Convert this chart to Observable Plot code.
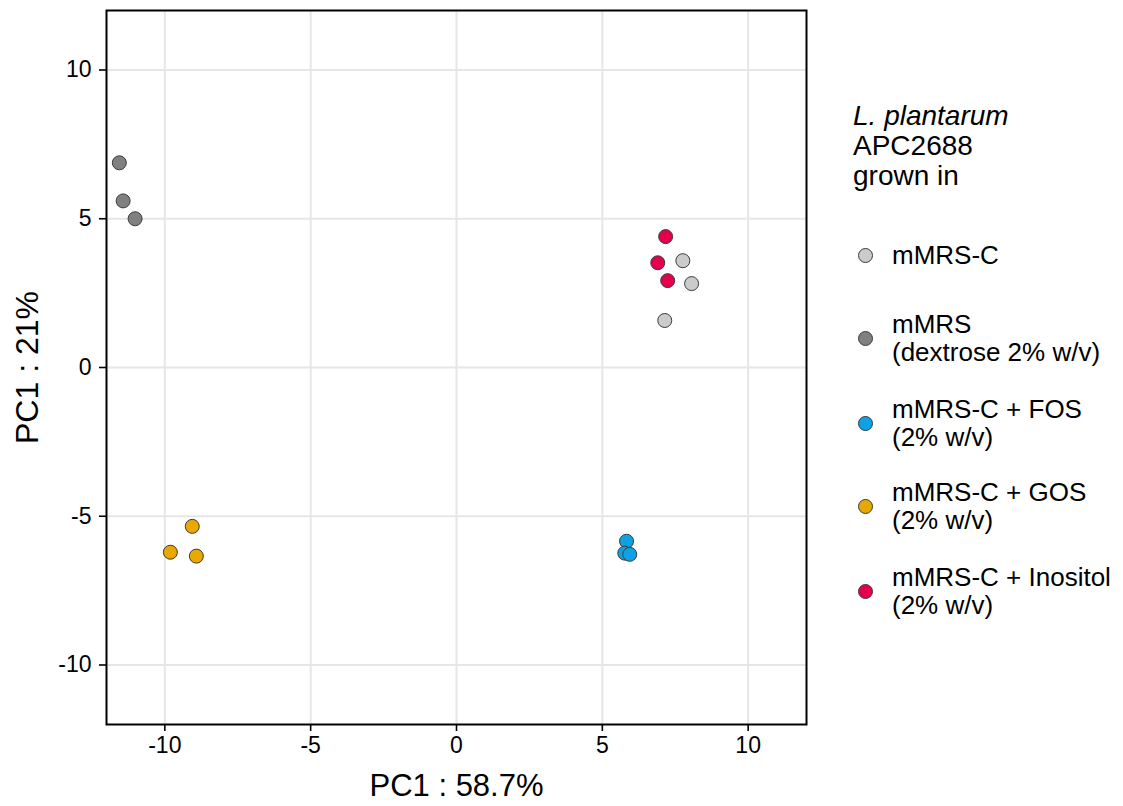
<!DOCTYPE html>
<html><head><meta charset="utf-8">
<script src="https://cdn.jsdelivr.net/npm/d3@7"></script>
<script src="https://cdn.jsdelivr.net/npm/@observablehq/plot@0.6"></script>
<style>
body{margin:0;background:#fff;font-family:"Liberation Sans",Arial,sans-serif;color:#000;}
#wrap{position:relative;width:1123px;height:806px;overflow:hidden;}
#chart{position:absolute;left:0;top:0;}
#legend{position:absolute;left:853px;top:0;width:270px;}
.tl{position:absolute;left:0;font-size:28px;line-height:31px;height:31px;white-space:nowrap;}
.item{position:absolute;left:0;height:84px;display:flex;align-items:center;white-space:nowrap;}
.sw{width:13px;height:13px;border-radius:50%;border:1px solid #3a3a3a;margin-left:5px;margin-right:19px;flex:none;}
.lab{font-size:26px;line-height:28.5px;}
</style></head><body>
<div id="wrap"><div id="chart"></div><div id="legend"></div></div>
<script>
// Groups, legend labels and colours
const groups = ["mMRS-C", "mMRS", "mMRS-C + FOS", "mMRS-C + GOS", "mMRS-C + Inositol"];
const groupLabels = [["mMRS-C"], ["mMRS", "(dextrose 2% w/v)"], ["mMRS-C + FOS", "(2% w/v)"], ["mMRS-C + GOS", "(2% w/v)"], ["mMRS-C + Inositol", "(2% w/v)"]];
const groupColors = ["#cbcbcb", "#808080", "#0ea2e4", "#e8a800", "#e5004f"];
const legendTitle = ["<i>L. plantarum</i>", "APC2688", "grown in"];

// Sample scores
const sampleGroup = ["mMRS", "mMRS", "mMRS",
  "mMRS-C + GOS", "mMRS-C + GOS", "mMRS-C + GOS",
  "mMRS-C + FOS", "mMRS-C + FOS", "mMRS-C + FOS",
  "mMRS-C + Inositol", "mMRS-C + Inositol", "mMRS-C + Inositol",
  "mMRS-C", "mMRS-C", "mMRS-C"];
const pc1 = [-11.56, -11.43, -11.02,  -9.81, -9.06, -8.92,  5.83, 5.77, 5.94,  7.17, 6.90, 7.24,  7.76, 8.06, 7.14];
const pc2 = [6.88, 5.60, 5.00,  -6.21, -5.34, -6.34,  -5.84, -6.24, -6.28,  4.40, 3.52, 2.92,  3.59, 2.82, 1.58];

const xTicks = [-10, -5, 0, 5, 10];
const yTicks = [-10, -5, 0, 5, 10];
const xLabel = "PC1 : 58.7%";
const yLabel = "PC1 : 21%";

const data = pc1.map((x, i) => ({x, y: pc2[i], group: sampleGroup[i]}));

const chart = Plot.plot({
  width: 830, height: 806,
  marginLeft: 106, marginRight: 24, marginTop: 10, marginBottom: 82,
  style: {fontFamily: '"Liberation Sans", Arial, sans-serif', background: "white", color: "black", fontSize: "23px"},
  x: {domain: [-12, 12]},
  y: {domain: [-12, 12]},
  color: {domain: groups, range: groupColors},
  marks: [
    Plot.gridX(xTicks, {stroke: "#e6e6e6", strokeOpacity: 1, strokeWidth: 2}),
    Plot.gridY(yTicks, {stroke: "#e6e6e6", strokeOpacity: 1, strokeWidth: 2}),
    Plot.axisX(xTicks, {tickSize: 7, tickPadding: 5, fontSize: 23, tickFormat: d => String(d), label: null, stroke: "black", strokeWidth: 1.6}),
    Plot.axisY(yTicks, {tickSize: 7, tickPadding: 8, fontSize: 23, tickFormat: d => String(d), label: null, stroke: "black", strokeWidth: 1.6}),
    Plot.frame({stroke: "black", strokeWidth: 2}),
    Plot.dot(data, {x: "x", y: "y", fill: "group", stroke: "#3a3a3a", strokeWidth: 1, r: 7}),
    Plot.text([xLabel], {text: d => d, frameAnchor: "bottom", dy: 71, fontSize: 31, fill: "black"}),
    Plot.text([yLabel], {text: d => d, frameAnchor: "left", textAnchor: "middle", dx: -79, rotate: -90, fontSize: 32, fill: "black"})
  ]
});
document.getElementById("chart").appendChild(chart);

// Legend
const legend = document.getElementById("legend");
legendTitle.forEach((t, i) => {
  const d = document.createElement("div");
  d.className = "tl";
  d.style.top = (100 + i * 30) + "px";
  d.innerHTML = t;
  legend.appendChild(d);
});
const itemCenters = [255, 338, 423, 506, 591];
groups.forEach((g, i) => {
  const it = document.createElement("div");
  it.className = "item";
  it.style.top = (itemCenters[i] - 42) + "px";
  const sw = document.createElement("div");
  sw.className = "sw";
  sw.style.background = groupColors[i];
  const lab = document.createElement("div");
  lab.className = "lab";
  lab.innerHTML = groupLabels[i].join("<br>");
  it.appendChild(sw); it.appendChild(lab);
  legend.appendChild(it);
});
</script>
</body></html>
